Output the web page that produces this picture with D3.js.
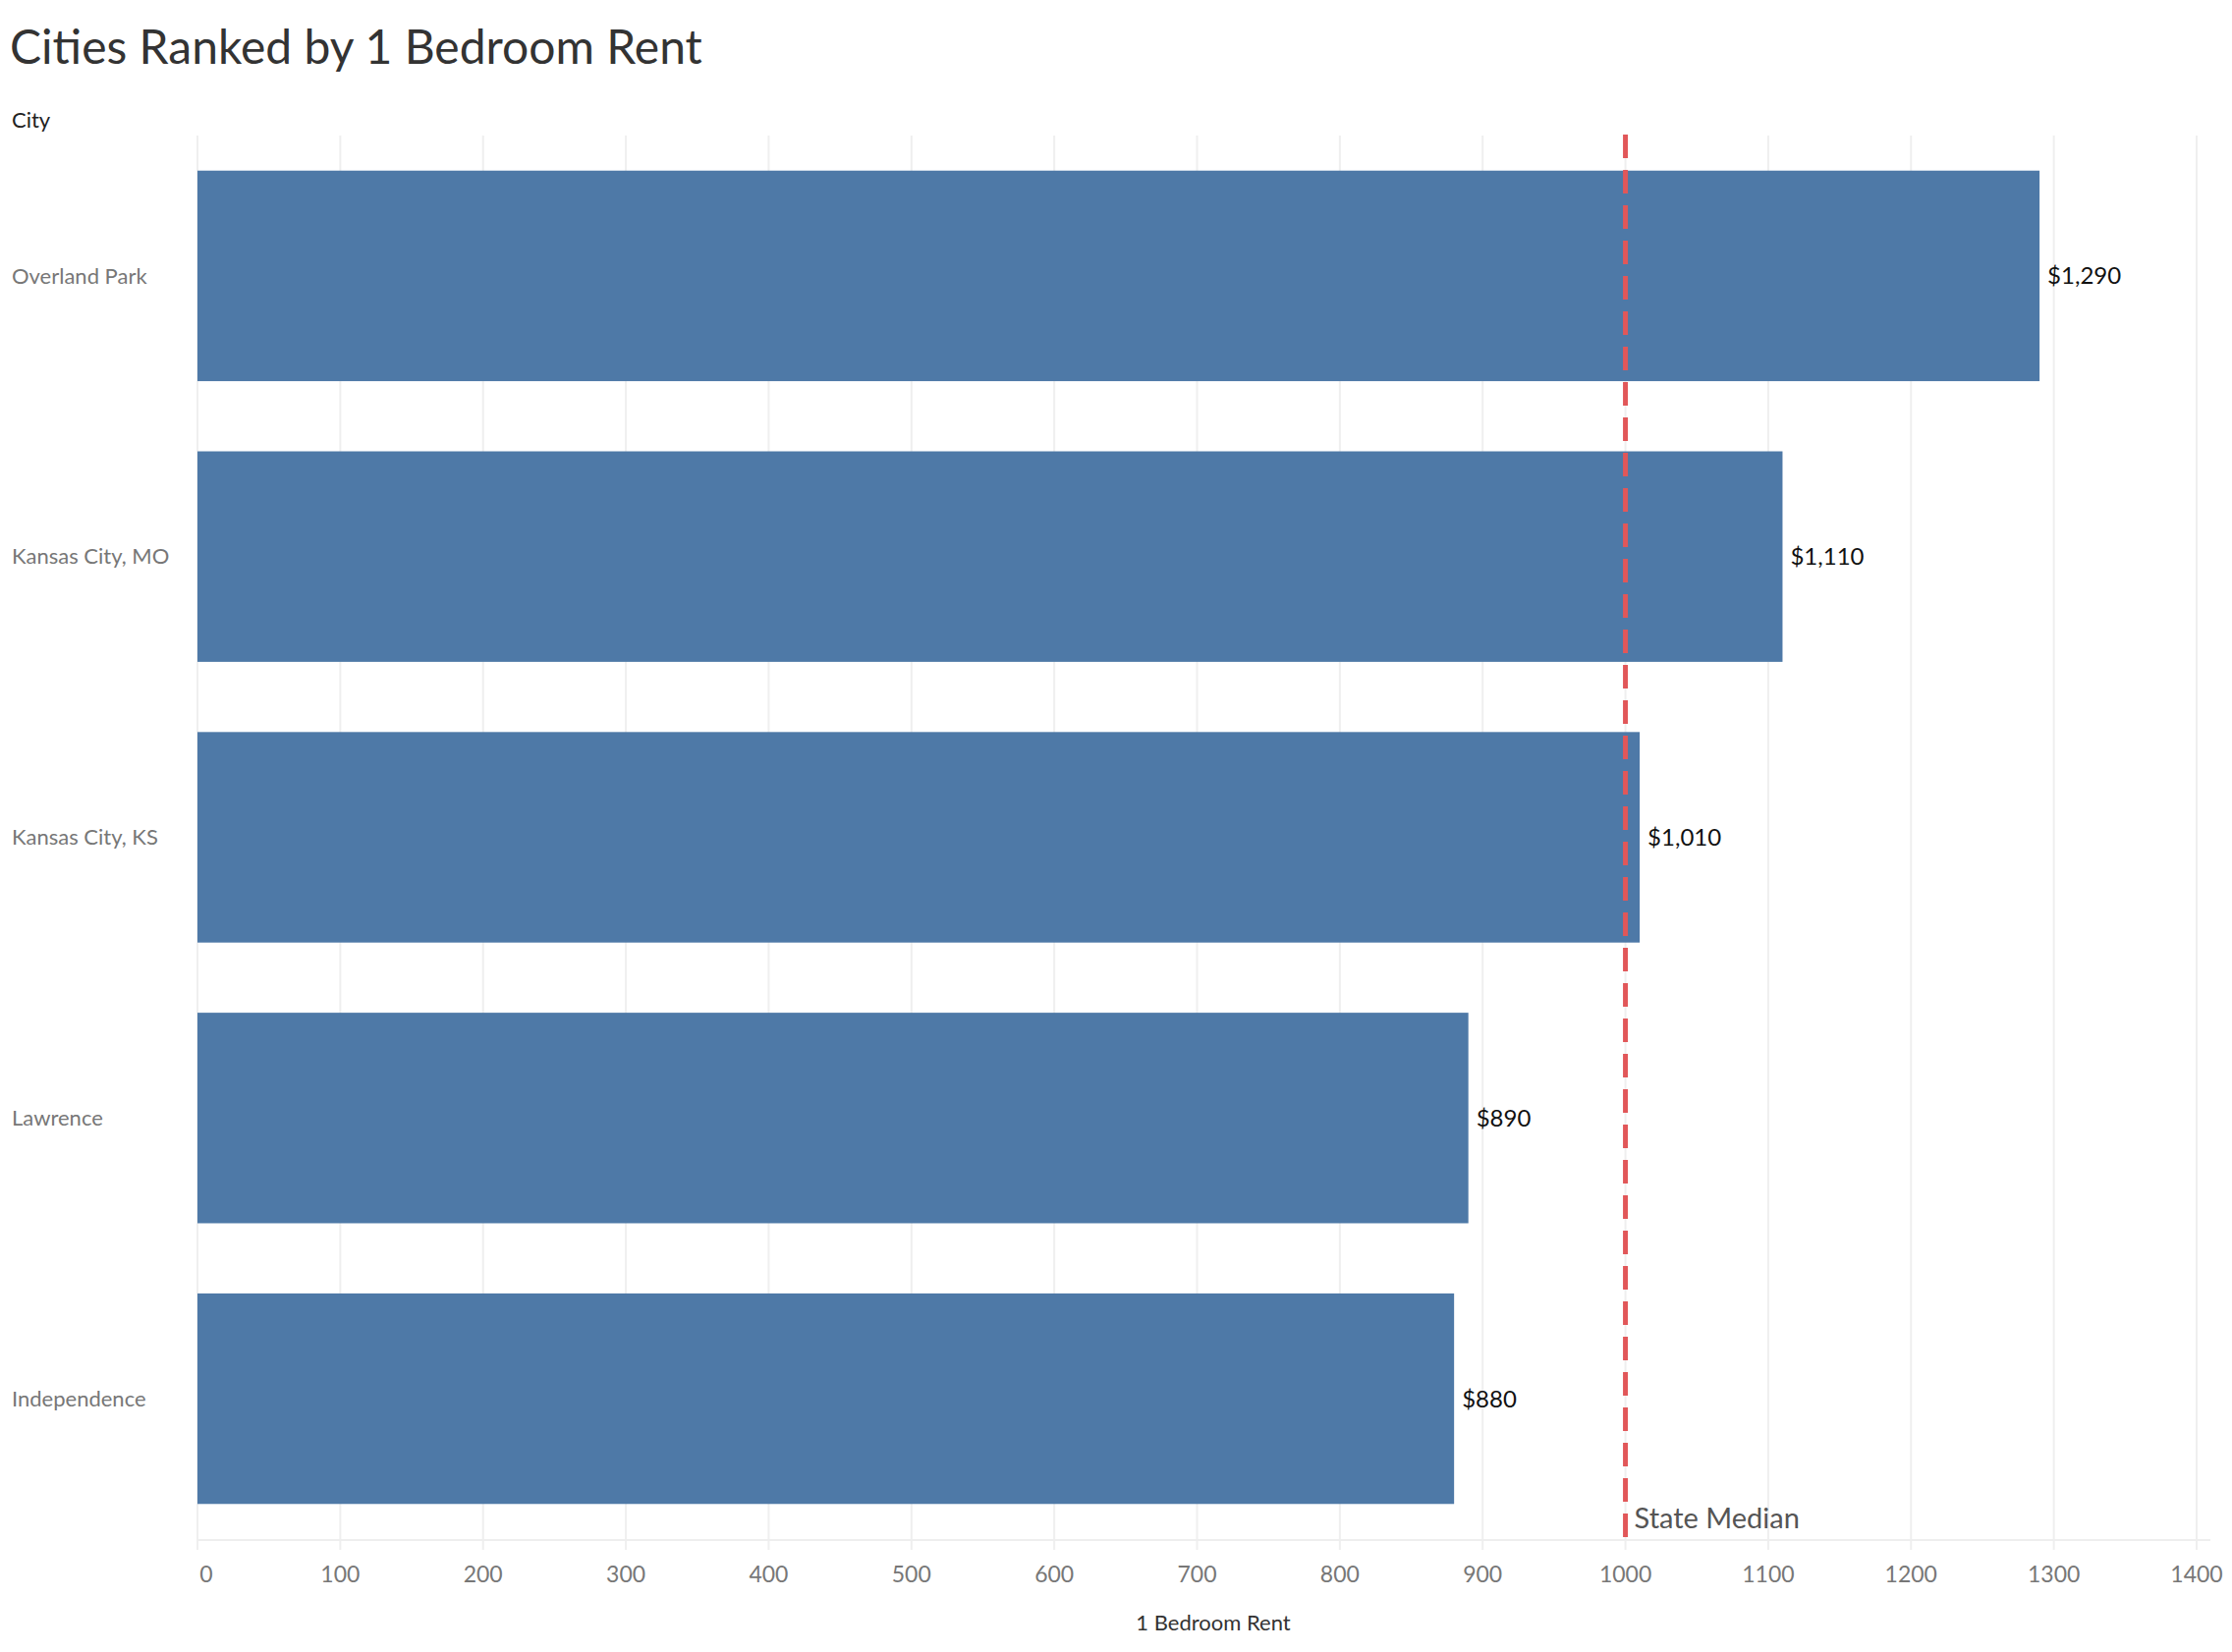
<!DOCTYPE html>
<html><head><meta charset="utf-8">
<script src="https://cdn.jsdelivr.net/npm/d3@7"></script>
<style>body{margin:0;background:#fff}</style>
</head><body>
<svg id="chart" width="2272" height="1682"></svg>
<script>
const cities = ['Overland Park', 'Kansas City, MO', 'Kansas City, KS', 'Lawrence', 'Independence'];
const rents = [1290, 1110, 1010, 890, 880];
const stateMedian = 1000;
const xTicks = [0, 100, 200, 300, 400, 500, 600, 700, 800, 900, 1000, 1100, 1200, 1300, 1400];

const font = 'Lato, "Open Sans", sans-serif';
let svg = d3.select('#chart');

const x = d3.scaleLinear().domain([0, 1400]).range([201, 2236]);
const y = d3.scaleBand().domain(cities).range([138, 1567]).paddingInner(0.25).paddingOuter(0.125);

// title
svg.append('text').attr('x', 10).attr('y', 65)
  .attr('font-family', font).attr('font-size', 48).attr('fill', '#333')
  .text('Cities Ranked by 1 Bedroom Rent');
svg.append('text').attr('x', 12).attr('y', 130)
  .attr('font-family', font).attr('font-size', 22).attr('fill', '#222')
  .text('City');

// gridlines
svg.append('g').selectAll('line').data(xTicks).join('line')
  .attr('x1', d => x(d)).attr('x2', d => x(d))
  .attr('y1', 138).attr('y2', 1578)
  .attr('stroke', '#efefef').attr('stroke-width', 2);
svg.append('line').attr('x1', 201).attr('x2', 2250).attr('y1', 1568).attr('y2', 1568)
  .attr('stroke', '#eeeeee').attr('stroke-width', 2);

// bars
svg.append('g').selectAll('rect').data(cities).join('rect')
  .attr('x', x(0)).attr('y', d => y(d))
  .attr('width', (d, i) => x(rents[i]) - x(0)).attr('height', y.bandwidth())
  .attr('fill', '#4e79a7');

// value labels
svg.append('g').selectAll('text').data(cities).join('text')
  .attr('x', (d, i) => x(rents[i]) + 8).attr('y', d => y(d) + y.bandwidth() / 2)
  .attr('dy', '0.35em').attr('font-family', font).attr('font-size', 24).attr('fill', '#111')
  .text((d, i) => '$' + d3.format(',')(rents[i]));

// city labels
svg.append('g').selectAll('text').data(cities).join('text')
  .attr('x', 12).attr('y', d => y(d) + y.bandwidth() / 2)
  .attr('dy', '0.35em').attr('font-family', font).attr('font-size', 22).attr('fill', '#777')
  .text(d => d);

// x tick labels
svg.append('g').selectAll('text').data(xTicks).join('text')
  .attr('x', d => x(d) + (d === 0 ? 9 : 0)).attr('y', 1603)
  .attr('dy', '0.35em').attr('text-anchor', 'middle')
  .attr('font-family', font).attr('font-size', 23).attr('fill', '#777')
  .text(d => d);
svg.append('text').attr('x', 1235).attr('y', 1652).attr('dy', '0.35em')
  .attr('text-anchor', 'middle').attr('font-family', font).attr('font-size', 22).attr('fill', '#333')
  .text('1 Bedroom Rent');

// state median reference line
svg.append('line').attr('x1', x(stateMedian)).attr('x2', x(stateMedian))
  .attr('y1', 137).attr('y2', 1567)
  .attr('stroke', '#e15759').attr('stroke-width', 5).attr('stroke-dasharray', '24 12');
svg.append('text').attr('x', x(stateMedian) + 9).attr('y', 1556)
  .attr('font-family', font).attr('font-size', 29).attr('fill', '#555')
  .text('State Median');
</script>
</body></html>
